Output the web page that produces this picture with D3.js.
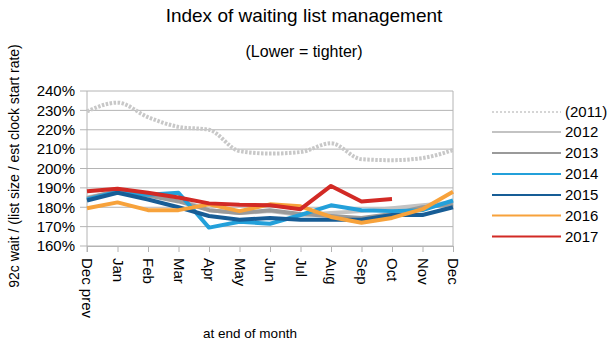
<!DOCTYPE html>
<html>
<head>
<meta charset="utf-8">
<script src="https://cdn.jsdelivr.net/npm/d3@7"></script>
<style>
  body { margin: 0; background: #fff; }
  svg { display: block; font-family: "Liberation Sans", Arial, sans-serif; }
</style>
</head>
<body>
<div id="chart"></div>
<script>
// month labels along the bottom
const months = ["Dec prev", "Jan", "Feb", "Mar", "Apr", "May", "Jun", "Jul", "Aug", "Sep", "Oct", "Nov", "Dec"];
const yTicks = [160, 170, 180, 190, 200, 210, 220, 230, 240];

// series values (% index)
const y2011 = [229.5, 234, 226.5, 221.5, 220, 209, 207.7, 208.5, 213, 204.8, 204.3, 205.4, 209.5];
const y2012 = [185, 188, 186.5, 184, 178.5, 177, 178, 176, 177, 178, 179.5, 181, 182.5];
const y2013 = [184.5, 188.5, 186, 183, 178.5, 177, 178.5, 176.5, 175.5, 174.5, 176.5, 180, 181.5];
const y2014 = [184, 188, 186.5, 187.5, 169.5, 172.5, 171.5, 176, 181, 178.5, 178, 178.5, 183.5];
const y2015 = [183.5, 187.5, 184, 180, 175.5, 173.5, 174.5, 173.5, 173.5, 173.5, 176, 176, 180];
const y2016 = [179.5, 182.5, 178.5, 178.5, 181.5, 178, 181.5, 180.5, 175, 172, 174.5, 179, 188];
const y2017 = [188.3, 189.5, 187.5, 185, 182, 181.3, 181, 179, 191, 183, 184.2];

const seriesNames = ["(2011)", "2012", "2013", "2014", "2015", "2016", "2017"];
const seriesValues = [y2011, y2012, y2013, y2014, y2015, y2016, y2017];
const seriesColors = ["#c8c8c8", "#c3c3c3", "#9a9a9a", "#23a0da", "#175d96", "#f7a23b", "#d22a25"];

const W = 613, H = 351;
const plot = { left: 87, right: 453, top: 91, bottom: 246 };

const svg = d3.select("#chart").append("svg")
  .attr("width", W)
  .attr("height", H);

const x = d3.scalePoint().domain(months).range([plot.left, plot.right]).padding(0);
const y = d3.scaleLinear().domain([160, 240]).range([plot.bottom, plot.top]);

// gridlines
svg.append("g")
  .selectAll("line")
  .data(yTicks)
  .join("line")
  .attr("x1", plot.left - 7)
  .attr("x2", plot.right)
  .attr("y1", d => y(d))
  .attr("y2", d => y(d))
  .attr("stroke", "#b4b4b4")
  .attr("stroke-width", 1);

// left and right frame
svg.append("line")
  .attr("x1", plot.left).attr("x2", plot.left)
  .attr("y1", plot.top).attr("y2", plot.bottom + 6)
  .attr("stroke", "#b4b4b4");
svg.append("line")
  .attr("x1", plot.right).attr("x2", plot.right)
  .attr("y1", plot.top).attr("y2", plot.bottom)
  .attr("stroke", "#b4b4b4");

// x axis
const xAxis = svg.append("g")
  .attr("transform", `translate(0,${plot.bottom})`)
  .call(d3.axisBottom(x).tickSize(6).tickSizeOuter(0));
xAxis.select(".domain").attr("stroke", "#b4b4b4");
xAxis.selectAll(".tick line").attr("stroke", "#b4b4b4");
xAxis.selectAll(".tick text")
  .attr("transform", "rotate(90)")
  .attr("text-anchor", "start")
  .attr("x", 12)
  .attr("y", 0)
  .attr("dy", "0.35em")
  .attr("fill", "#000")
  .style("font-size", "15px")
  .style("font-family", "'Liberation Sans', Arial, sans-serif");

// y axis labels
const yAxis = svg.append("g")
  .attr("transform", `translate(${plot.left},0)`)
  .call(d3.axisLeft(y).tickValues(yTicks).tickFormat(d => d + "%").tickSize(0).tickPadding(12));
yAxis.select(".domain").remove();
yAxis.selectAll(".tick text")
  .attr("fill", "#000")
  .style("font-size", "15px")
  .style("font-family", "'Liberation Sans', Arial, sans-serif");

// lines
const line = d3.line()
  .x((d, i) => x(months[i]))
  .y(d => y(d));
const smooth = d3.line()
  .x((d, i) => x(months[i]))
  .y(d => y(d))
  .curve(d3.curveMonotoneX);

svg.append("g")
  .selectAll("path")
  .data(seriesValues)
  .join("path")
  .attr("d", (d, i) => i === 0 ? smooth(d) : line(d))
  .attr("fill", "none")
  .attr("stroke", (d, i) => seriesColors[i])
  .attr("stroke-width", 4)
  .attr("stroke-dasharray", (d, i) => i === 0 ? "2.5,1.5" : null)
  .attr("stroke-linejoin", "round");

// legend
const legend = svg.append("g");
const rowY = [112, 132, 153, 174, 195, 215.5, 236.5];
seriesNames.forEach((name, i) => {
  legend.append("line")
    .attr("x1", 492).attr("x2", 561)
    .attr("y1", rowY[i]).attr("y2", rowY[i])
    .attr("stroke", seriesColors[i])
    .attr("stroke-width", i === 0 ? 1.5 : 2)
    .attr("stroke-dasharray", i === 0 ? "2,2" : null);
  legend.append("text")
    .attr("x", 565)
    .attr("y", rowY[i])
    .attr("dy", "0.35em")
    .style("font-size", "15px")
    .text(name);
});

// titles
svg.append("text")
  .attr("x", 304).attr("y", 22)
  .attr("text-anchor", "middle")
  .style("font-size", "19px")
  .text("Index of waiting list management");

svg.append("text")
  .attr("x", 304).attr("y", 57)
  .attr("text-anchor", "middle")
  .style("font-size", "16px")
  .text("(Lower = tighter)");

svg.append("text")
  .attr("transform", "translate(19,166) rotate(-90)")
  .attr("text-anchor", "middle")
  .style("font-size", "14px")
  .text("92c wait / (list size / est clock start rate)");

svg.append("text")
  .attr("x", 250).attr("y", 338)
  .attr("text-anchor", "middle")
  .style("font-size", "13.5px")
  .text("at end of month");
</script>
</body>
</html>
